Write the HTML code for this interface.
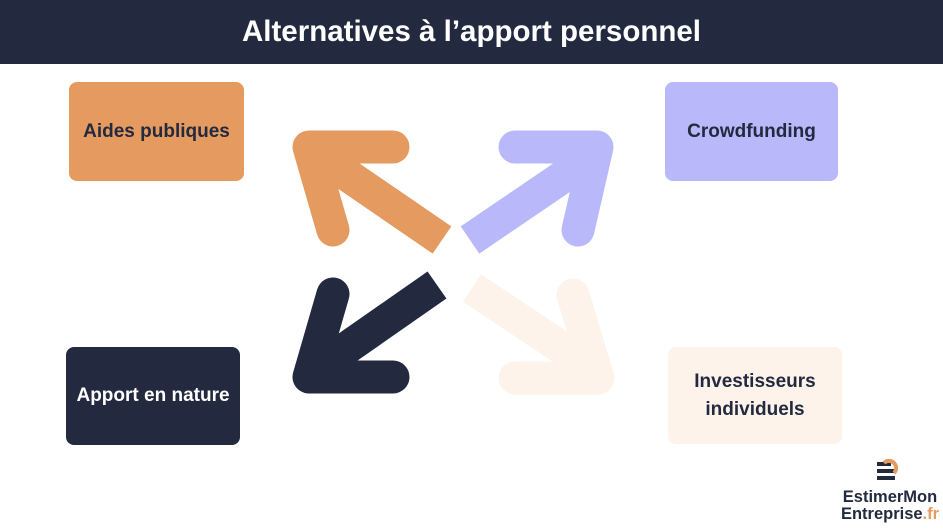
<!DOCTYPE html>
<html><head><meta charset="utf-8"><style>
body{margin:0;width:943px;height:530px;background:#fff;position:relative;overflow:hidden;font-family:"Liberation Sans",sans-serif}
.h{position:absolute;left:0;top:0;width:943px;height:64px;background:#232a40;color:#fff;font-weight:bold;font-size:29.5px;text-align:center;line-height:64px}
.b{position:absolute;border-radius:8px;display:flex;align-items:center;justify-content:center;text-align:center;font-weight:bold;font-size:19px;color:#232a40;line-height:28px}
</style></head><body>
<div class="h">Alternatives à l’apport personnel</div>
<div class="b" style="left:69px;top:82px;width:175px;height:99px;background:#e59a60">Aides publiques</div>
<div class="b" style="left:665px;top:82px;width:173px;height:99px;background:#b8b8fa">Crowdfunding</div>
<div class="b" style="left:66px;top:347px;width:174px;height:98px;background:#232a40;color:#fff">Apport en nature</div>
<div class="b" style="left:668px;top:347px;width:174px;height:97px;background:#fdf3ea">Investisseurs<br>individuels</div>
<svg width="943" height="530" style="position:absolute;left:0;top:0" fill="none" stroke-width="33">
<g stroke="#e59a60"><line x1="442" y1="240" x2="318" y2="155"/><polyline points="393,147 309,147 333,230" stroke-linecap="round" stroke-linejoin="round"/></g>
<g stroke="#b8b8fa"><line x1="470" y1="240" x2="592" y2="157"/><polyline points="515,147 597,147 578,230" stroke-linecap="round" stroke-linejoin="round"/></g>
<g stroke="#232a40"><line x1="437" y1="285" x2="318" y2="368"/><polyline points="333,294 309,377 393,377" stroke-linecap="round" stroke-linejoin="round"/></g>
<g stroke="#fdf3ea"><line x1="472" y1="288" x2="592" y2="368"/><polyline points="573,295 598,378 515,378" stroke-linecap="round" stroke-linejoin="round"/></g>
<g fill="#232a40" stroke="none"><rect x="877" y="462" width="14" height="4"/><rect x="877" y="469" width="18" height="4"/><rect x="877" y="476" width="18" height="4"/></g>
<path d="M884 463 a7 7 0 1 1 10 10" stroke="#e59a60" stroke-width="4"/>
<text x="890" y="502" font-family="Liberation Sans" font-weight="bold" font-size="16.5" fill="#232a40" text-anchor="middle" stroke="none">EstimerMon</text>
<text x="890" y="519" font-family="Liberation Sans" font-weight="bold" font-size="16.5" fill="#232a40" text-anchor="middle" stroke="none">Entreprise<tspan fill="#e59a60">.fr</tspan></text>
</svg>
</body></html>
